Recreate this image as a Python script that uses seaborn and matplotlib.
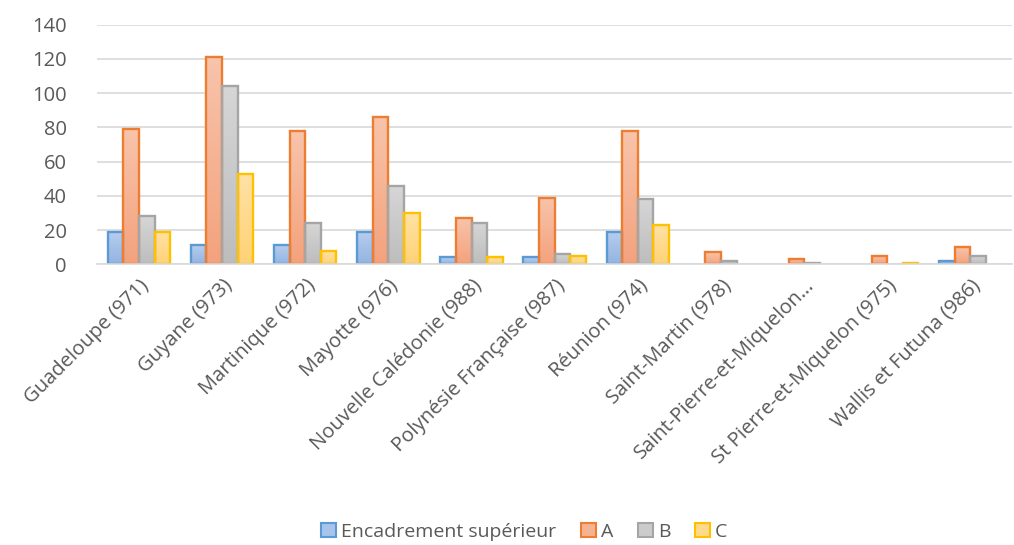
import matplotlib
matplotlib.use("Agg")
import matplotlib.pyplot as plt
from matplotlib.colors import LinearSegmentedColormap
import numpy as np
import seaborn as sns
import pandas as pd

# Territories and counts per category
territoires = [
    "Guadeloupe (971)", "Guyane (973)", "Martinique (972)", "Mayotte (976)",
    "Nouvelle Calédonie (988)", "Polynésie Française (987)", "Réunion (974)",
    "Saint-Martin (978)", "Saint-Pierre-et-Miquelon…", "St Pierre-et-Miquelon (975)",
    "Wallis et Futuna (986)",
]
encadrement = [19, 11, 11, 19, 4, 4, 19, 0, 0, 0, 2]
serie_a = [79, 121, 78, 86, 27, 39, 78, 7, 3, 5, 10]
serie_b = [28, 104, 24, 46, 24, 6, 38, 2, 1, 0, 5]
serie_c = [19, 53, 8, 30, 4, 5, 23, 0, 0, 1, 0]
series = ["Encadrement supérieur", "A", "B", "C"]
y_ticks = [0, 20, 40, 60, 80, 100, 120, 140]

rows = []
for name, vals in zip(series, [encadrement, serie_a, serie_b, serie_c]):
    for t, v in zip(territoires, vals):
        rows.append({"territoire": t, "serie": name, "valeur": v})
df = pd.DataFrame(rows)

fills = ["#a8c4ea", "#f6b393", "#cbcbcb", "#ffda8d"]
tops = ["#b6cdee", "#f8c4ab", "#d6d6d6", "#ffe2a4"]
bottoms = ["#93b4e2", "#f4a27d", "#bdbdbd", "#ffd277"]
edges = ["#5b9bd5", "#ed7d31", "#a5a5a5", "#ffc000"]

sns.set_theme(style="white")
plt.rcParams["font.family"] = ["Open Sans", "DejaVu Sans"]

fig = plt.figure(figsize=(10.14, 5.45), dpi=100)
ax = fig.add_axes([0.096, 0.515, 0.902, 0.44])

sns.barplot(data=df, x="territoire", y="valeur", hue="serie", palette=fills,
            width=0.75, ax=ax, legend=False, saturation=1)

ax.set_ylim(0, 140)
ax.set_xlim(-0.5, len(territoires) - 0.5)

# Vertical gradient fill inside each bar, light at the top
grad = np.linspace(1, 0, 64).reshape(-1, 1)
for container, ec, top, bot in zip(ax.containers, edges, tops, bottoms):
    cmap = LinearSegmentedColormap.from_list("g", [bot, top])
    for bar in container:
        h = bar.get_height()
        if h <= 0:
            bar.set_visible(False)
            continue
        x0 = bar.get_x()
        w = bar.get_width()
        im = ax.imshow(grad, cmap=cmap, aspect="auto", extent=(x0, x0 + w, 0, h),
                       zorder=bar.get_zorder(), interpolation="bilinear")
        im.set_clip_path(bar)
        bar.set_facecolor("none")
        bar.set_edgecolor(ec)
        bar.set_linewidth(1.7)
        bar.set_zorder(bar.get_zorder() + 0.1)

ax.set_ylim(0, 140)
ax.set_xlim(-0.5, len(territoires) - 0.5)
ax.set_yticks(y_ticks)
ax.yaxis.grid(True, color="#d9d9d9", linewidth=1.2)
ax.set_axisbelow(True)
for s in ["top", "right", "left"]:
    ax.spines[s].set_visible(False)
ax.spines["bottom"].set_color("#d9d9d9")
ax.spines["bottom"].set_linewidth(1.2)
ax.set_xlabel("")
ax.set_ylabel("")
ax.tick_params(axis="both", length=0, colors="#595959", labelsize=14.5)
ax.tick_params(axis="y", pad=22)
ax.tick_params(axis="x", pad=8)
ax.set_xticks(range(len(territoires)))
ax.set_xticklabels(territoires, rotation=45, ha="right", va="top",
                   rotation_mode="anchor")

handles = [plt.Rectangle((0, 0), 1, 1, facecolor=f, edgecolor=e, linewidth=1.5)
           for f, e in zip(fills, edges)]
fig.legend(handles, series, loc="center", bbox_to_anchor=(0.517, 0.024),
           ncol=4, frameon=False, fontsize=14, handlelength=0.75, handleheight=0.75,
           handletextpad=0.25, columnspacing=1.3, labelcolor="#595959",
           borderpad=0.1)

fig.savefig("out.png", dpi=100)
